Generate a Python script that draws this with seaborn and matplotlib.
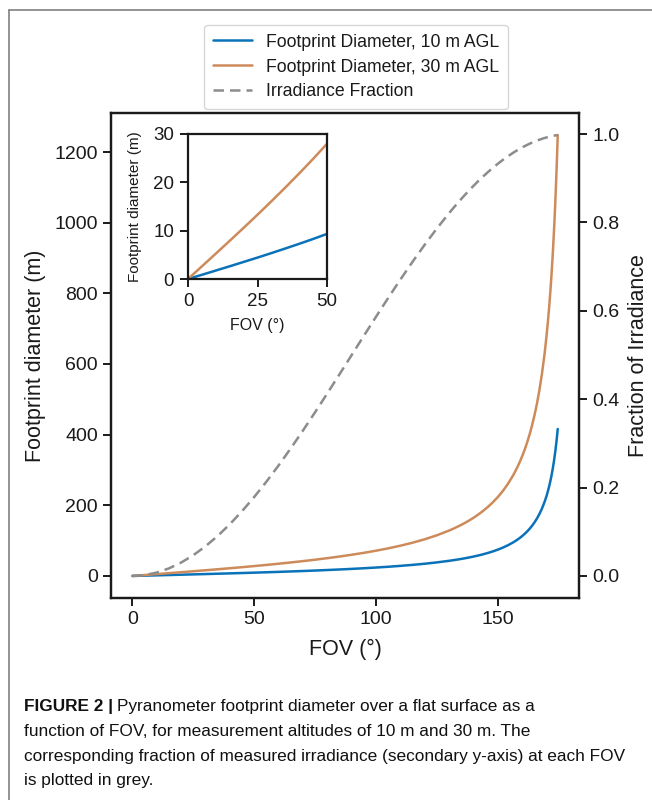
import numpy as np
import pandas as pd
import matplotlib
matplotlib.use("Agg")
import matplotlib.pyplot as plt
from matplotlib.lines import Line2D
from matplotlib import font_manager as fm
import seaborn as sns

# ---- data ----
fov = [0, 5, 10, 15, 20, 25, 30, 35, 40, 45, 50, 55, 60, 65, 70, 75, 80, 85, 90, 95,
       100, 105, 110, 115, 120, 125, 130, 132, 134, 136, 138, 140, 142, 144, 146, 148,
       150, 152, 154, 156, 157, 158, 159, 160, 161, 162, 163, 164, 165, 166, 167, 168,
       169, 169.5, 170, 170.5, 171, 171.5, 172, 172.5, 173, 173.5, 174, 174.25, 174.5]
diam_10m = [0, 0.87, 1.75, 2.63, 3.53, 4.43, 5.36, 6.31, 7.28, 8.28, 9.33, 10.41, 11.55,
            12.74, 14.00, 15.35, 16.78, 18.33, 20.00, 21.83, 23.84, 26.06, 28.56, 31.39,
            34.64, 38.42, 42.89, 44.92, 47.12, 49.50, 52.10, 54.95, 58.08, 61.55, 65.42,
            69.75, 74.64, 80.22, 86.63, 94.09, 98.30, 102.9, 107.9, 113.4, 119.5, 126.3,
            133.8, 142.3, 151.9, 162.9, 175.5, 190.3, 207.7, 217.7, 228.6, 240.7, 254.1,
            269.1, 286.0, 305.1, 327.0, 352.2, 381.6, 398.2, 416.0]
diam_30m = [0, 2.62, 5.25, 7.90, 10.58, 13.30, 16.08, 18.92, 21.84, 24.85, 27.98, 31.23,
            34.64, 38.22, 42.01, 46.04, 50.35, 54.98, 60.00, 65.48, 71.51, 78.19, 85.69,
            94.18, 103.9, 115.3, 128.7, 134.8, 141.4, 148.5, 156.3, 164.8, 174.3, 184.7,
            196.3, 209.2, 223.9, 240.6, 259.9, 282.3, 294.9, 308.7, 323.7, 340.3, 358.5,
            378.9, 401.5, 426.9, 455.7, 488.6, 526.6, 570.9, 623.1, 653.0, 685.8, 722.1,
            762.3, 807.4, 858.1, 915.4, 981.1, 1056.7, 1144.8, 1194.7, 1248.0]
irr_frac = [0, 0.0019, 0.0076, 0.0170, 0.0302, 0.0468, 0.0670, 0.0904, 0.1170, 0.1464,
            0.1786, 0.2132, 0.2500, 0.2887, 0.3290, 0.3706, 0.4132, 0.4564, 0.5000, 0.5436,
            0.5868, 0.6294, 0.6710, 0.7113, 0.7500, 0.7868, 0.8214, 0.8346, 0.8473, 0.8597,
            0.8716, 0.8830, 0.8940, 0.9045, 0.9145, 0.9240, 0.9330, 0.9415, 0.9494, 0.9568,
            0.9603, 0.9636, 0.9668, 0.9698, 0.9728, 0.9755, 0.9782, 0.9806, 0.9830, 0.9851,
            0.9872, 0.9891, 0.9909, 0.9916, 0.9924, 0.9931, 0.9938, 0.9945, 0.9951, 0.9957,
            0.9963, 0.9968, 0.9973, 0.9975, 0.9977]
series_labels = ["Footprint Diameter, 10 m AGL", "Footprint Diameter, 30 m AGL",
                 "Irradiance Fraction"]
left_ticks = [0, 200, 400, 600, 800, 1000, 1200]
right_ticks = [0.0, 0.2, 0.4, 0.6, 0.8, 1.0]
x_ticks = [0, 50, 100, 150]
inset_xticks = [0, 25, 50]
inset_yticks = [0, 10, 20, 30]
caption_lines = [
    "Pyranometer footprint diameter over a flat surface as a",
    "function of FOV, for measurement altitudes of 10 m and 30 m. The",
    "corresponding fraction of measured irradiance (secondary y-axis) at each FOV",
    "is plotted in grey.",
]

df = pd.DataFrame({"fov": fov, "d10": diam_10m, "d30": diam_30m, "irr": irr_frac})
df_in = df[df["fov"] <= 50]

# ---- style ----
sns.set_theme(style="ticks")
plt.rcParams["font.family"] = ["Liberation Sans", "DejaVu Sans"]
plt.rcParams["axes.edgecolor"] = "#1a1a1a"
plt.rcParams["xtick.color"] = "#1a1a1a"
plt.rcParams["ytick.color"] = "#1a1a1a"
plt.rcParams["text.color"] = "#1a1a1a"
plt.rcParams["axes.labelcolor"] = "#1a1a1a"

C10 = "#0a72b8"
C30 = "#cd8b5b"
CIRR = "#8c8c8c"
LW = 1.8

W, H = 652, 800
fig = plt.figure(figsize=(W / 100, H / 100), dpi=100)


def box(l, t, r, b):
    return [l / W, 1 - b / H, (r - l) / W, (b - t) / H]


ax = fig.add_axes(box(111, 113, 579, 598))
sns.lineplot(data=df, x="fov", y="d10", ax=ax, color=C10, linewidth=LW, label=series_labels[0])
sns.lineplot(data=df, x="fov", y="d30", ax=ax, color=C30, linewidth=LW, label=series_labels[1])
ax2 = ax.twinx()
sns.lineplot(data=df, x="fov", y="irr", ax=ax2, color=CIRR, linewidth=LW,
             linestyle=(0, (4.2, 2.4)), label=series_labels[2])

ax.set_xticks(x_ticks)
ax.set_yticks(left_ticks)
ax2.set_yticks(right_ticks)
ax2.set_yticklabels([f"{v:.1f}" for v in right_ticks])
ax.set_xlabel("FOV (°)", fontsize=15.5, labelpad=8)
ax.set_ylabel("Footprint diameter (m)", fontsize=15.5, labelpad=6)
ax2.set_ylabel("Fraction of Irradiance", fontsize=15.5, labelpad=6)
for a in (ax, ax2):
    a.tick_params(labelsize=14, width=1.4, length=6)
    for s in a.spines.values():
        s.set_linewidth(1.6)
    a.grid(False)
ax2.spines["right"].set_visible(True)
ax.spines["right"].set_visible(True)
ax.spines["top"].set_visible(True)
ax2.spines["top"].set_visible(True)

h1, l1 = ax.get_legend_handles_labels()
h2, l2 = ax2.get_legend_handles_labels()
ax.get_legend().remove()
ax2.get_legend().remove()
fig.legend(h1 + h2, l1 + l2, loc="center", bbox_to_anchor=(356 / W, 1 - 67 / H),
           fontsize=12.7, frameon=True, fancybox=True, edgecolor="#cccccc",
           handlelength=2.2, labelspacing=0.45, borderpad=0.5)

# ---- inset ----
axi = fig.add_axes(box(188, 134, 327, 279))
sns.lineplot(data=df_in, x="fov", y="d10", ax=axi, color=C10, linewidth=LW)
sns.lineplot(data=df_in, x="fov", y="d30", ax=axi, color=C30, linewidth=LW)
axi.set_xlim(0, 50)
axi.set_ylim(0, 30)
axi.set_xticks(inset_xticks)
axi.set_yticks(inset_yticks)
axi.set_xlabel("FOV (°)", fontsize=11.5, labelpad=6)
axi.set_ylabel("Footprint diameter (m)", fontsize=11, labelpad=8)
axi.tick_params(labelsize=13.5, width=1.4, length=6, pad=4)
for s in axi.spines.values():
    s.set_visible(True)
    s.set_linewidth(1.6)

# ---- frame and caption ----
fig.add_artist(Line2D([9 / W, 1], [1 - 10 / H, 1 - 10 / H], color="#808080", lw=1.2,
                      transform=fig.transFigure))
fig.add_artist(Line2D([9 / W, 9 / W], [1 - 10 / H, 0], color="#808080", lw=1.2,
                      transform=fig.transFigure))

names = {f.name for f in fm.fontManager.ttflist}
cap_font = "Liberation Sans Narrow" if "Liberation Sans Narrow" in names else "Liberation Sans"
cap_size = 13.5 if cap_font == "Liberation Sans Narrow" else 12.4

ys = [706, 731, 756, 781]
tb = fig.text(24 / W, 1 - ys[0] / H, "FIGURE 2 |", fontsize=cap_size, fontweight="bold",
              family=cap_font, va="center", ha="left", color="#111111")
fig.canvas.draw()
ext = tb.get_window_extent(renderer=fig.canvas.get_renderer())
fig.text((ext.x1 + 4) / W, 1 - ys[0] / H, caption_lines[0], fontsize=cap_size,
         family=cap_font, va="center", ha="left", color="#111111")
for y, line in zip(ys[1:], caption_lines[1:]):
    fig.text(24 / W, 1 - y / H, line, fontsize=cap_size, family=cap_font,
             va="center", ha="left", color="#111111")

fig.savefig("out.png", dpi=100)
